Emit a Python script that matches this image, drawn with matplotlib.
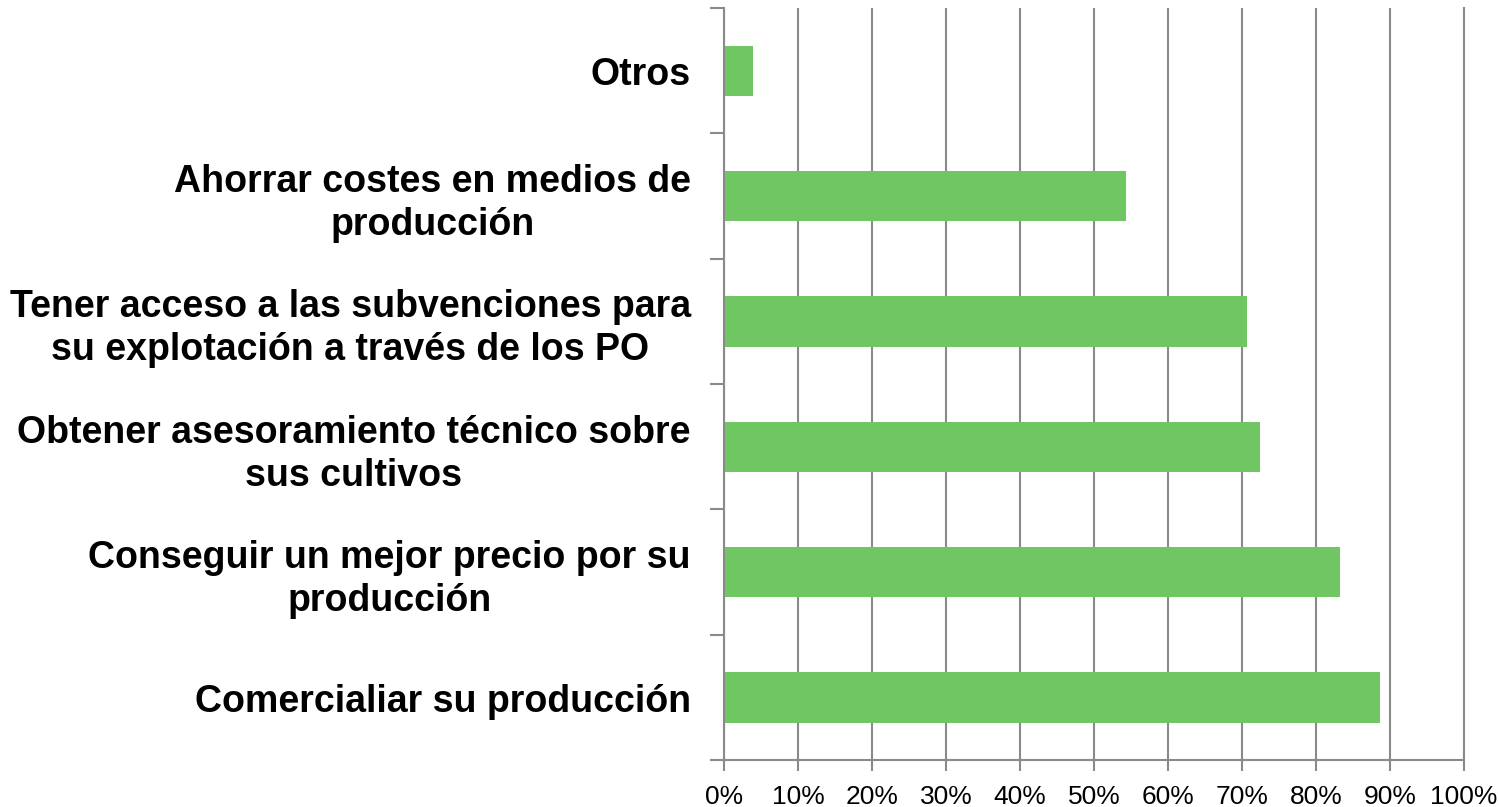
import matplotlib.pyplot as plt
from matplotlib.ticker import PercentFormatter, FixedLocator

# categories top -> bottom as shown in the chart
categories = [
    "Otros",
    "Ahorrar costes en medios de\nproducción",
    "Tener acceso a las subvenciones para\nsu explotación a través de los PO",
    "Obtener asesoramiento técnico sobre\nsus cultivos",
    "Conseguir un mejor precio por su\nproducción",
    "Comercialiar su producción",
]
values = [0.039, 0.543, 0.707, 0.724, 0.833, 0.887]
x_ticks = [i / 10 for i in range(11)]

plt.rcParams['font.family'] = ['Liberation Sans', 'DejaVu Sans']

green = '#71C664'
gray = '#8A8A8A'

fig = plt.figure(figsize=(14.99, 8.07), dpi=100)
ax = fig.add_axes([0.483, 0.058, 0.4937, 0.932])

# bottom category first so the list order reads top to bottom
cats = categories[::-1]
vals = values[::-1]
pos = list(range(len(cats)))
ax.barh(pos, vals, height=0.4, color=green, zorder=2)

ax.set_xlim(0, 1)
ax.set_ylim(-0.5, len(cats) - 0.5)
ax.xaxis.set_major_locator(FixedLocator(x_ticks))
ax.xaxis.set_major_formatter(PercentFormatter(1.0, decimals=0))
ax.grid(axis='x', color=gray, linewidth=1.5)
ax.set_axisbelow(True)

# boundary ticks on the y axis, labels centred on the bars
ax.set_yticks([p - 0.5 for p in pos] + [len(cats) - 0.5])
ax.set_yticklabels([])
ax.set_yticks(pos, minor=True)
ax.set_yticklabels(cats, minor=True, fontsize=27, fontweight='bold',
                   multialignment='center', linespacing=1.25)
ax.tick_params(axis='y', which='major', length=10, width=1.5, color=gray)
ax.tick_params(axis='y', which='minor', length=0, pad=24)
ax.tick_params(axis='x', length=8, width=1.5, color=gray, labelsize=19, pad=10)

ax.spines['top'].set_visible(False)
for side in ['left', 'bottom', 'right']:
    ax.spines[side].set_color(gray)
    ax.spines[side].set_linewidth(1.5)

fig.savefig("out.png", dpi=100)
